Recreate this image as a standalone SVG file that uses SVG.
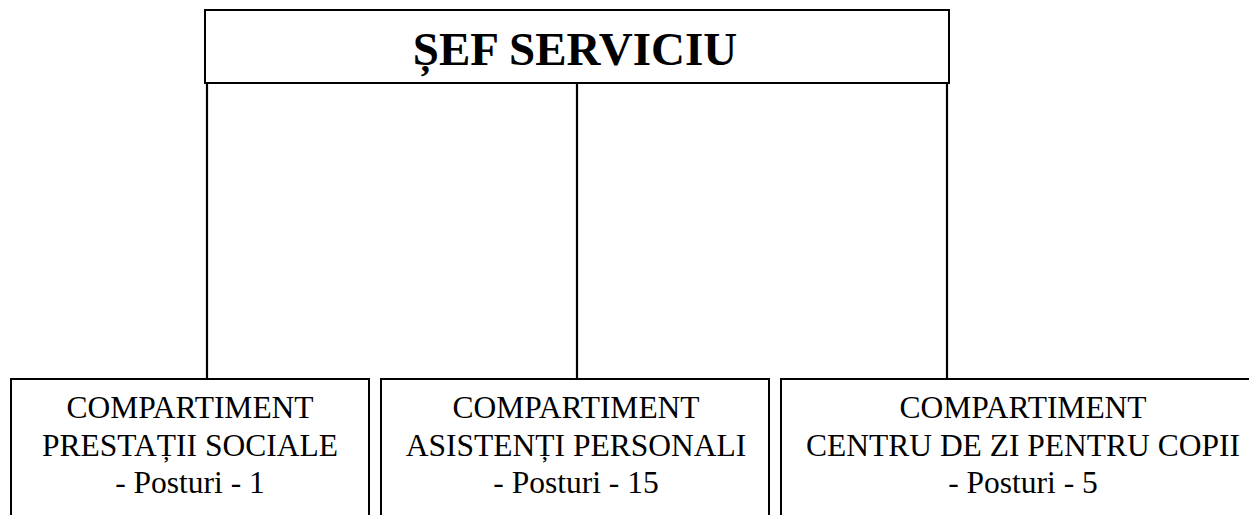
<svg xmlns="http://www.w3.org/2000/svg" width="1249" height="515" viewBox="0 0 1249 515">
<style>
.box{fill:#fff;stroke:#000;stroke-width:2}
.ln{stroke:#000;stroke-width:2.2;fill:none}
.t{font-family:"Liberation Serif","Times New Roman",serif;font-size:31.5px;text-anchor:middle;fill:#000}
.h{font-family:"Liberation Serif","Times New Roman",serif;font-size:47px;font-weight:bold;text-anchor:middle;fill:#000}
</style>
<rect width="1249" height="515" fill="#fff"/>
<g id="connectors">
<line class="ln" x1="207" y1="83" x2="207" y2="379"/>
<line class="ln" x1="577" y1="83" x2="577" y2="379"/>
<line class="ln" x1="947" y1="83" x2="947" y2="379"/>
</g>
<g id="sef">
<rect class="box" x="205" y="10" width="744" height="73"/>
<text class="h" x="575" y="65">ȘEF SERVICIU</text>
</g>
<g id="prestatii">
<rect class="box" x="11" y="379" width="358" height="150"/>
<text class="t" x="190" y="418">COMPARTIMENT</text>
<text class="t" x="190" y="456">PRESTAȚII SOCIALE</text>
<text class="t" x="190" y="493">- Posturi - 1</text>
</g>
<g id="asistenti">
<rect class="box" x="381" y="379" width="388" height="150"/>
<text class="t" x="576" y="418">COMPARTIMENT</text>
<text class="t" x="576" y="456">ASISTENȚI PERSONALI</text>
<text class="t" x="576" y="493">- Posturi - 15</text>
</g>
<g id="centru">
<rect class="box" x="781" y="379" width="490" height="150"/>
<text class="t" x="1023" y="418">COMPARTIMENT</text>
<text class="t" x="1023" y="456">CENTRU DE ZI PENTRU COPII</text>
<text class="t" x="1023" y="493">- Posturi - 5</text>
</g>
</svg>
